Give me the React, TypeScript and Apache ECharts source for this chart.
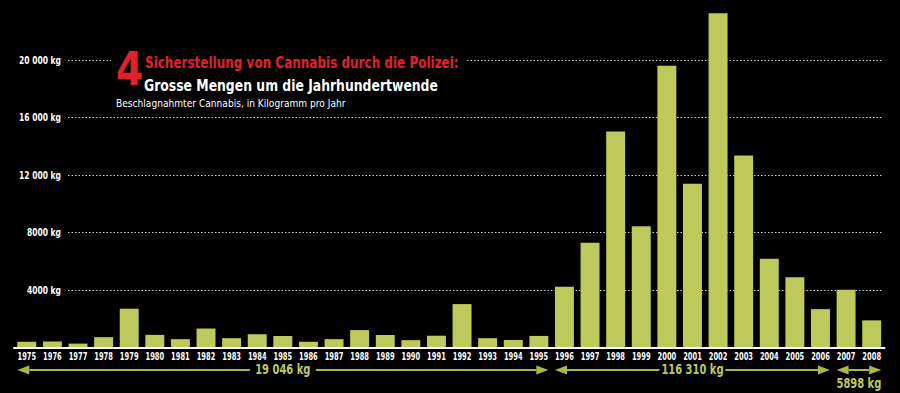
import React, { useEffect, useRef } from "react";
import * as echarts from "echarts";

const years = [
  "1975", "1976", "1977", "1978", "1979", "1980", "1981", "1982", "1983", "1984",
  "1985", "1986", "1987", "1988", "1989", "1990", "1991", "1992", "1993", "1994",
  "1995", "1996", "1997", "1998", "1999", "2000", "2001", "2002", "2003", "2004",
  "2005", "2006", "2007", "2008",
];
const seizedKg = [
  400, 410, 270, 720, 2700, 880, 580, 1320, 650, 920,
  800, 400, 580, 1210, 870, 510, 820, 3020, 650, 530,
  806, 4230, 7280, 15030, 8440, 19600, 11400, 23260, 13350, 6170,
  4880, 2670, 4010, 1888,
];
const yTicks = [4000, 8000, 12000, 16000, 20000];
const yTickLabels = ["4000 kg", "8000 kg", "12 000 kg", "16 000 kg", "20 000 kg"];

const groupStart = ["1975", "1996", "2007"];
const groupEnd = ["1995", "2006", "2008"];
const groupLabels = ["19 046 kg", "116 310 kg", "5898 kg"];

const titleNumber = "4";
const titleLine1 = "Sicherstellung von Cannabis durch die Polizei:";
const titleLine2 = "Grosse Mengen um die Jahrhundertwende";
const subtitle = "Beschlagnahmter Cannabis, in Kilogramm pro Jahr";

const FONT = "'DejaVu Sans Condensed', 'Liberation Sans', sans-serif";
const BAR = "#bdca5b";
const ARROW = "#a9b84c";
const RED = "#e2202a";

export default function App() {
  const ref = useRef<HTMLDivElement>(null);
  useEffect(() => {
    if (!ref.current) return;
    const chart = echarts.init(ref.current, null, { renderer: "svg" });
    const top = 60;
    const bottom = 45.5;
    chart.setOption({
      animation: false,
      backgroundColor: "#000",
      grid: [
        { left: 14, right: 15.5, top, bottom },
        { left: 68, right: 18, top, bottom },
      ],
      xAxis: [
        {
          type: "category",
          data: years,
          gridIndex: 0,
          boundaryGap: true,
          axisLine: { show: true, lineStyle: { color: "#fff", width: 2 } },
          axisTick: { show: false },
          axisLabel: { show: false },
          z: 5,
        },
        { type: "value", gridIndex: 1, show: false, min: 0, max: 1 },
      ],
      yAxis: [
        { type: "value", gridIndex: 0, min: 0, max: 20000, interval: 4000, show: false },
        {
          type: "value",
          gridIndex: 1,
          min: 0,
          max: 20000,
          interval: 4000,
          axisLine: { show: false },
          axisTick: { show: false },
          axisLabel: { show: false },
          splitLine: {
            show: true,
            showMinLine: false,
            lineStyle: { color: "#d0d0d0", type: [1.5, 2], width: 1.2 },
          },
        },
      ],
      series: [
        {
          type: "bar",
          xAxisIndex: 0,
          yAxisIndex: 0,
          data: seizedKg,
          barWidth: "74%",
          clip: false,
          itemStyle: { color: BAR },
          z: 3,
        },
      ],
    });

    const px = (cat: string) => chart.convertToPixel({ xAxisIndex: 0 }, cat) as number;
    const py = (v: number) => chart.convertToPixel({ yAxisIndex: 1 }, v) as number;
    const band = px(years[1]) - px(years[0]);
    const half = (band * 0.74) / 2;
    const baseY = py(0);
    const lineY = 370;
    const graphics: any[] = [
      { type: "rect", z: 50, shape: { x: 111, y: 50, width: 355, height: 60 }, style: { fill: "#000" } },
      {
        type: "text", z: 51, x: 116, y: 92, scaleX: 0.95,
        style: { text: titleNumber, fill: RED, font: `bold 46px ${FONT}`, textVerticalAlign: "bottom" },
      },
      {
        type: "text", z: 51, x: 145, y: 62.5, scaleX: 0.89,
        style: { text: titleLine1, fill: RED, font: `bold 15px ${FONT}`, textVerticalAlign: "middle" },
      },
      {
        type: "text", z: 51, x: 144, y: 85, scaleX: 0.89,
        style: { text: titleLine2, fill: "#fff", font: `bold 15.5px ${FONT}`, textVerticalAlign: "middle" },
      },
      {
        type: "text", z: 51, x: 116, y: 103, scaleX: 0.92,
        style: { text: subtitle, fill: "#fff", font: `11px ${FONT}`, textVerticalAlign: "middle" },
      },
    ];
    years.forEach((yr) => {
      graphics.push({
        type: "text", z: 30, x: px(yr), y: baseY + 3, scaleX: 0.68,
        style: {
          text: yr, fill: "#fff", font: `bold 11px ${FONT}`,
          textAlign: "center", textVerticalAlign: "top",
        },
      });
    });
    yTicks.forEach((v, i) => {
      graphics.push({
        type: "text", z: 30, x: 61, y: py(v), scaleX: 0.8,
        style: {
          text: yTickLabels[i], fill: "#fff", font: `bold 10.5px ${FONT}`,
          textAlign: "right", textVerticalAlign: "middle",
        },
      });
    });
    groupStart.forEach((s, i) => {
      const x1 = px(s) - half;
      const x2 = px(groupEnd[i]) + half;
      const mid = (x1 + x2) / 2;
      const narrow = x2 - x1 < 100;
      const head = 12;
      const hh = 4.5;
      graphics.push({
        type: "polygon", z: 20,
        shape: { points: [[x1, lineY], [x1 + head, lineY - hh], [x1 + head, lineY + hh]] },
        style: { fill: ARROW },
      });
      graphics.push({
        type: "polygon", z: 20,
        shape: { points: [[x2, lineY], [x2 - head, lineY - hh], [x2 - head, lineY + hh]] },
        style: { fill: ARROW },
      });
      const segs = narrow
        ? [[x1 + head, x2 - head]]
        : [[x1 + head, mid - 33], [mid + 33, x2 - head]];
      segs.forEach(([a, b]) => {
        graphics.push({
          type: "line", z: 20,
          shape: { x1: a, y1: lineY, x2: b, y2: lineY },
          style: { stroke: ARROW, lineWidth: 2 },
        });
      });
      graphics.push({
        type: "text", z: 21,
        x: mid, y: narrow ? lineY + 14 : lineY, scaleX: 0.82,
        style: {
          text: groupLabels[i], fill: BAR, font: `bold 13.5px ${FONT}`,
          textAlign: "center", textVerticalAlign: "middle",
        },
      });
    });
    chart.setOption({ graphic: graphics });
    return () => chart.dispose();
  }, []);
  return (
    <div
      ref={ref}
      style={{ position: "fixed", left: 0, top: 0, width: 900, height: 393, background: "#000" }}
    />
  );
}
